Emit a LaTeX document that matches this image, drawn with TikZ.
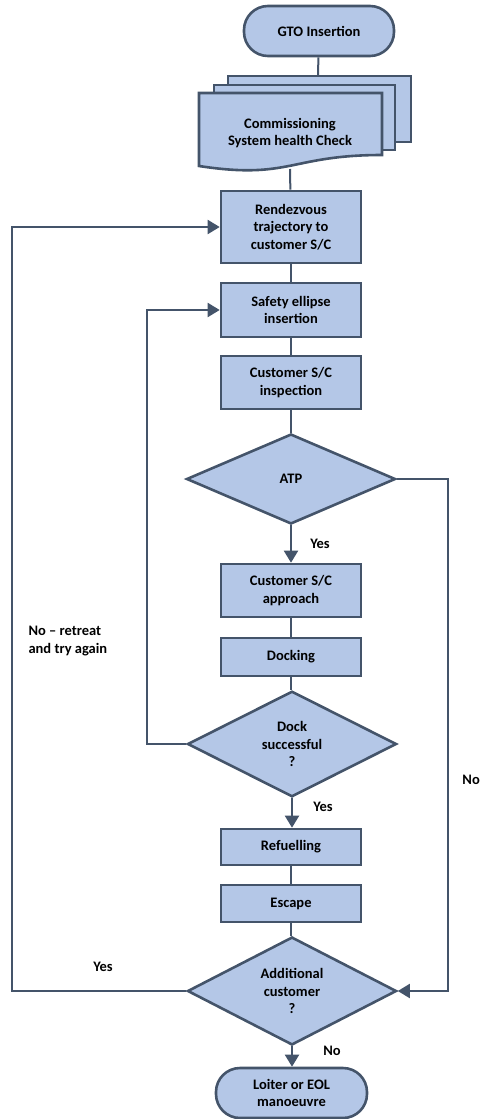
\documentclass[tikz,border=0pt]{standalone}
\usepackage{fontspec}
\setmainfont{Carlito}
\usepackage{xcolor}
\usepackage{tikz}
\usetikzlibrary{shapes.geometric,arrows.meta}
\definecolor{boxfill}{HTML}{B4C7E7}
\definecolor{boxline}{HTML}{44546A}
\tikzstyle{box}=[fill=boxfill, draw=boxline, line width=2.6pt, shape=rectangle, minimum width=140pt, align=center, inner sep=0pt]
\tikzstyle{terminal}=[box, rounded corners=24pt, minimum height=50pt]
\tikzstyle{decision}=[fill=boxfill, draw=boxline, line width=2.6pt, shape=diamond, minimum width=209pt, minimum height=90pt, align=center, inner sep=0pt]
\tikzstyle{sheet}=[fill=boxfill, draw=boxline, line width=2.6pt]
\tikzstyle{plain edge}=[-, draw=boxline, line width=2pt]
\tikzstyle{arrow edge}=[-{Triangle[length=12pt,width=14pt]}, draw=boxline, line width=2pt]
\pgfdeclarelayer{nodelayer}
\pgfdeclarelayer{edgelayer}
\pgfsetlayers{nodelayer,edgelayer}

\begin{document}
\begin{tikzpicture}[x=1pt, y=-1pt, every node/.style={font=\bfseries\fontsize{14.5}{17.5}\selectfont}]
	\useasboundingbox (0, 0) rectangle (481, 1119);
	\begin{pgfonlayer}{nodelayer}
		% stacked sheets
		\draw [style=sheet] (228, 76) rectangle (411, 142);
		\draw [style=sheet] (214, 85) rectangle (395, 150);
		\draw [style=sheet] (199, 93) -- (382, 93) -- (382, 155) .. controls (290, 155) and (290, 180) .. (199, 166) -- cycle;
		\node [style=terminal, minimum width=150pt] (0) at (319, 31) {GTO Insertion};
		\node [align=center] (1) at (290, 133) {Commissioning\\System health Check};
		\node [style=box, minimum height=72pt] (2) at (291, 227) {Rendezvous\\trajectory to\\customer S/C};
		\node [style=box, minimum height=54pt] (3) at (291, 310) {Safety ellipse\\insertion};
		\node [style=box, minimum height=53pt] (4) at (291, 382.5) {Customer S/C\\inspection};
		\node [style=decision] (5) at (291, 479) {ATP};
		\node [style=box, minimum height=53pt] (6) at (291, 590.5) {Customer S/C\\approach};
		\node [style=box, minimum height=38pt] (7) at (291, 657) {Docking};
		\node [style=decision] (8) at (292, 744) {Dock\\successful\\?};
		\node [style=box, minimum height=36pt] (9) at (291, 847) {Refuelling};
		\node [style=box, minimum height=37pt] (10) at (291, 903.5) {Escape};
		\node [style=decision] (11) at (292, 991) {Additional\\customer\\?};
		\node [style=terminal, minimum width=151pt] (12) at (291.5, 1093) {Loiter or EOL\\manoeuvre};
		\node [anchor=west, align=left] (13) at (25, 641) {No – retreat\\and try again};
		\node (14) at (320, 544) {Yes};
		\node (15) at (323, 807) {Yes};
		\node (16) at (103, 967) {Yes};
		\node (17) at (332, 1051) {No};
		\node [anchor=east, inner xsep=1pt] (18) at (481, 780) {No};
		\coordinate (19) at (318, 76);
		\coordinate (20) at (290, 169);
		\coordinate (21) at (448, 479);
		\coordinate (22) at (448, 991);
		\coordinate (23) at (147, 744);
		\coordinate (24) at (147, 310);
		\coordinate (25) at (12, 991);
		\coordinate (26) at (12, 227);
	\end{pgfonlayer}
	\begin{pgfonlayer}{edgelayer}
		\draw [style=plain edge] (0) to (19);
		\draw [style=plain edge] (20) to (2);
		\draw [style=plain edge] (2) to (3);
		\draw [style=plain edge] (3) to (4);
		\draw [style=plain edge] (4) to (5);
		\draw [style=arrow edge] (5) to (6);
		\draw [style=plain edge] (6) to (7);
		\draw [style=plain edge] (7.south) to (7.south |- 8.north);
		\draw [style=arrow edge] (8.south) to (8.south |- 9.north);
		\draw [style=plain edge] (9) to (10);
		\draw [style=plain edge] (10.south) to (10.south |- 11.north);
		\draw [style=arrow edge] (11.south) to (11.south |- 12.north);
		\draw [style=arrow edge] (5.east) -- (21) -- (22) -- (11.east);
		\draw [style=arrow edge] (8.west) -- (23) -- (24) -- (3.west);
		\draw [style=arrow edge] (11.west) -- (25) -- (26) -- (2.west);
	\end{pgfonlayer}
\end{tikzpicture}
\end{document}
